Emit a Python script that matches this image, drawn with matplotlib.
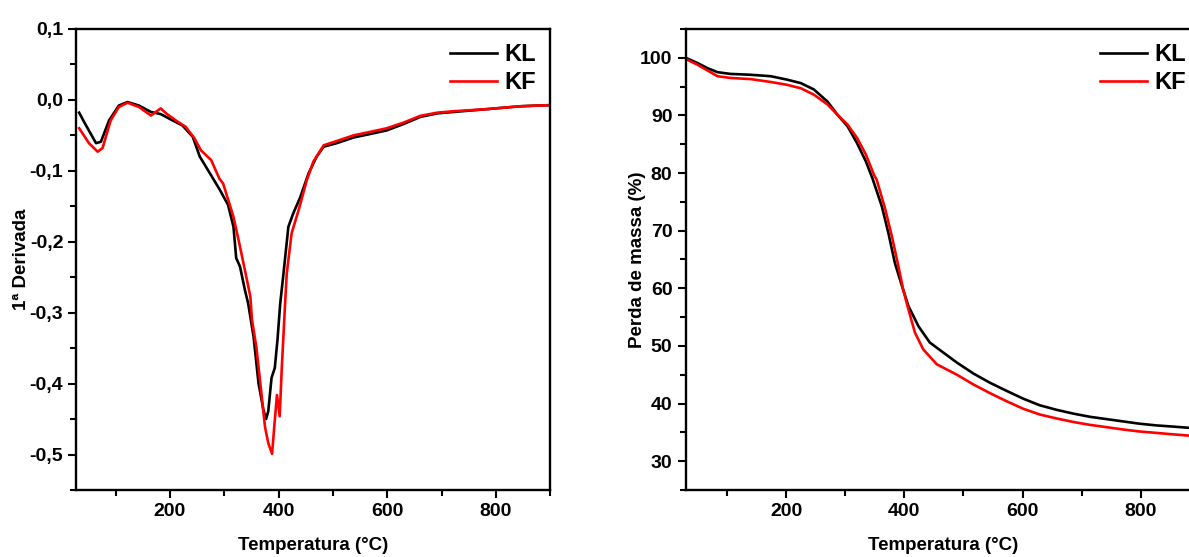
"""Curvas de DTG e TG das amostras KL e KF."""

import matplotlib
matplotlib.use("Agg")
import matplotlib.pyplot as plt
from matplotlib.ticker import FuncFormatter, MultipleLocator

FONT = ["Liberation Sans Narrow", "Liberation Sans", "DejaVu Sans"]
plt.rcParams["font.family"] = FONT
plt.rcParams["font.weight"] = "bold"

# DTG (1a derivada), KL
dtg_kl_t = [33, 42, 64, 73, 88, 106, 122, 143, 165, 183, 205, 223, 242, 255, 274,
            292, 307, 317, 322, 329, 338, 344, 354, 363, 372, 377, 381, 387, 393,
            398, 403, 409, 418, 427, 440, 455, 470, 483, 507, 538, 569, 599, 630,
            661, 692, 722, 753, 784, 814, 845, 876, 897]
dtg_kl = [-0.018, -0.031, -0.061, -0.059, -0.029, -0.008, -0.003, -0.008, -0.017,
          -0.020, -0.029, -0.036, -0.052, -0.080, -0.104, -0.127, -0.148, -0.179,
          -0.223, -0.235, -0.268, -0.287, -0.334, -0.399, -0.437, -0.450, -0.439,
          -0.392, -0.378, -0.338, -0.287, -0.245, -0.179, -0.160, -0.137, -0.104,
          -0.080, -0.066, -0.061, -0.053, -0.048, -0.043, -0.034, -0.024, -0.019,
          -0.017, -0.015, -0.013, -0.011, -0.009, -0.008, -0.0075]

# DTG (1a derivada), KF
dtg_kf_t = [33, 51, 67, 76, 91, 106, 122, 143, 165, 174, 183, 193, 211, 229, 245,
            257, 276, 291, 298, 317, 329, 338, 348, 351, 359, 369, 375, 381, 388,
            392, 397, 402, 406, 412, 415, 424, 437, 452, 464, 483, 507, 538, 569,
            599, 630, 661, 692, 722, 753, 784, 814, 845, 876, 897]
dtg_kf = [-0.040, -0.061, -0.073, -0.068, -0.029, -0.010, -0.004, -0.010, -0.022,
          -0.017, -0.012, -0.019, -0.029, -0.038, -0.054, -0.071, -0.085, -0.111,
          -0.118, -0.165, -0.207, -0.240, -0.277, -0.310, -0.348, -0.418, -0.461,
          -0.484, -0.499, -0.461, -0.416, -0.446, -0.376, -0.287, -0.245, -0.188,
          -0.155, -0.113, -0.087, -0.064, -0.058, -0.050, -0.045, -0.040, -0.032,
          -0.0225, -0.018, -0.016, -0.0145, -0.013, -0.011, -0.009, -0.008, -0.0075]

# TG (perda de massa), KL
tg_kl_t = [30, 50, 67, 84, 106, 140, 174, 202, 225, 247, 270, 287, 304, 320, 335,
           346, 362, 373, 384, 396, 407, 424, 443, 460, 489, 517, 545, 573, 601,
           629, 658, 686, 714, 742, 770, 798, 827, 855, 880, 900]
tg_kl = [100.0, 99.1, 98.2, 97.5, 97.2, 97.05, 96.8, 96.2, 95.6, 94.5, 92.4, 90.1,
         88.1, 85.2, 82.0, 79.1, 74.2, 69.6, 64.4, 60.4, 56.9, 53.4, 50.6, 49.3,
         47.1, 45.2, 43.6, 42.2, 40.85, 39.7, 38.9, 38.25, 37.7, 37.3, 36.9, 36.5,
         36.2, 36.0, 35.8, 35.7]

# TG (perda de massa), KF
tg_kf_t = [30, 50, 67, 84, 106, 140, 174, 202, 225, 247, 270, 287, 304, 320, 335,
           349, 353, 367, 379, 390, 398, 407, 418, 432, 455, 489, 517, 545, 573,
           601, 629, 658, 686, 714, 742, 770, 798, 827, 855, 880, 900]
tg_kf = [99.8, 98.8, 97.8, 96.8, 96.5, 96.3, 95.8, 95.3, 94.7, 93.6, 91.9, 90.1,
         88.4, 86.1, 83.2, 79.6, 78.9, 74.0, 69.0, 63.8, 59.8, 56.3, 52.3, 49.4,
         46.8, 45.0, 43.3, 41.8, 40.4, 39.1, 38.1, 37.4, 36.8, 36.3, 35.9, 35.5,
         35.15, 34.9, 34.65, 34.45, 34.3]

LW = 1.9


def comma(v, _pos):
    s = "%.1f" % v
    if s == "-0.0":
        s = "0.0"
    return s.replace(".", ",")


def style_axes(ax):
    for side in ("left", "bottom", "top", "right"):
        ax.spines[side].set_linewidth(1.7)
    ax.tick_params(which="major", direction="out", length=6, width=1.5,
                   labelsize=14, top=False, right=False)
    ax.tick_params(which="minor", direction="out", length=4, width=1.5,
                   top=False, right=False)
    for lab in ax.get_xticklabels() + ax.get_yticklabels():
        lab.set_fontweight("bold")
    ax.set_xlabel("Temperatura (°C)", fontsize=13.5, fontweight="bold", labelpad=12)
    leg = ax.legend(loc="upper right", frameon=False, fontsize=17, handlelength=2.0,
                    handletextpad=0.3, borderaxespad=0.2, labelspacing=0.2)
    for t in leg.get_texts():
        t.set_fontweight("bold")


fig = plt.figure(figsize=(11.89, 5.57), dpi=100)
ax1 = fig.add_axes([0.0643, 0.1203, 0.3985, 0.8277])
ax2 = fig.add_axes([0.5766, 0.1203, 0.4326, 0.8277])

ax1.plot(dtg_kl_t, dtg_kl, color="black", lw=LW, label="KL")
ax1.plot(dtg_kf_t, dtg_kf, color="red", lw=LW, label="KF")
ax1.set_xlim(28, 900)
ax1.set_ylim(-0.55, 0.1)
ax1.xaxis.set_major_locator(MultipleLocator(200))
ax1.xaxis.set_minor_locator(MultipleLocator(100))
ax1.yaxis.set_major_locator(MultipleLocator(0.1))
ax1.yaxis.set_minor_locator(MultipleLocator(0.05))
ax1.yaxis.set_major_formatter(FuncFormatter(comma))
ax1.set_ylabel("1ª Derivada", fontsize=13.5, fontweight="bold", labelpad=0)
style_axes(ax1)

ax2.plot(tg_kl_t, tg_kl, color="black", lw=LW, label="KL")
ax2.plot(tg_kf_t, tg_kf, color="red", lw=LW, label="KF")
ax2.set_xlim(30, 900)
ax2.set_ylim(25, 105)
ax2.xaxis.set_major_locator(MultipleLocator(200))
ax2.xaxis.set_minor_locator(MultipleLocator(100))
ax2.yaxis.set_major_locator(MultipleLocator(10))
ax2.yaxis.set_minor_locator(MultipleLocator(5))
ax2.set_yticks([30, 40, 50, 60, 70, 80, 90, 100])
ax2.set_ylabel("Perda de massa (%)", fontsize=13.5, fontweight="bold", labelpad=-4)
style_axes(ax2)

fig.savefig("out.png", dpi=100)
